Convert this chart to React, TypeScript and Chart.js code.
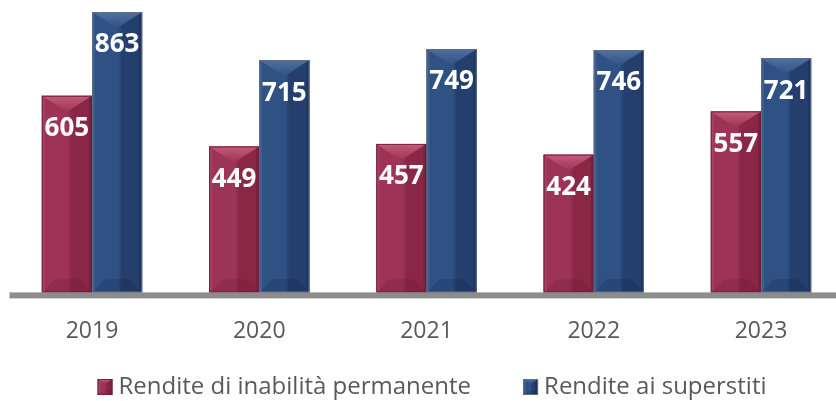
import { useEffect, useRef } from "react";
import { Chart, registerables } from "chart.js";

Chart.register(...registerables);

const categories = ["2019", "2020", "2021", "2022", "2023"];
const seriesNames = ["Rendite di inabilità permanente", "Rendite ai superstiti"];
const inabilita = [605, 449, 457, 424, 557];
const superstiti = [863, 715, 749, 746, 721];
const yMax = 900;

const palettes = [
  { left: "#9d3457", right: "#8a2747", top: "#c35b79", bottom: "rgba(60,0,20,0.12)", border: "rgba(110,30,60,0.9)" },
  { left: "#2f5184", right: "#243f6d", top: "#51709f", bottom: "rgba(0,10,40,0.14)", border: "rgba(95,110,135,0.9)" },
];

const FONT = "'Open Sans', 'Noto Sans', sans-serif";

function drawBevel(ctx: CanvasRenderingContext2D, L: number, R: number, T: number, B: number, p: any) {
  const w = R - L;
  const cx = (L + R) / 2;
  const g = ctx.createLinearGradient(L, 0, R, 0);
  g.addColorStop(0, p.left);
  g.addColorStop(0.52, p.left);
  g.addColorStop(0.6, p.right);
  g.addColorStop(1, p.right);
  ctx.fillStyle = g;
  ctx.fillRect(L, T, w, B - T);
  ctx.fillStyle = "rgba(255,255,255,0.07)";
  ctx.fillRect(L, T, 3, B - T);
  ctx.fillStyle = "rgba(0,0,0,0.14)";
  ctx.fillRect(R - 3, T, 3, B - T);
  const d = Math.min(w * 0.32, (B - T) / 2);
  const tg = ctx.createLinearGradient(0, T, 0, T + d);
  tg.addColorStop(0, p.top);
  tg.addColorStop(1, p.left);
  ctx.fillStyle = tg;
  ctx.beginPath();
  ctx.moveTo(L, T);
  ctx.lineTo(R, T);
  ctx.lineTo(cx, T + d);
  ctx.closePath();
  ctx.fill();
  const e = Math.min(w * 0.26, (B - T) / 2);
  ctx.fillStyle = p.bottom;
  ctx.beginPath();
  ctx.moveTo(L, B);
  ctx.lineTo(L + e, B - e);
  ctx.lineTo(R - e, B - e);
  ctx.lineTo(R, B);
  ctx.closePath();
  ctx.fill();
  ctx.strokeStyle = p.border;
  ctx.lineWidth = 1;
  ctx.strokeRect(L + 0.5, T + 0.5, w - 1, B - T - 1);
}

const bevelPlugin = {
  id: "bevelBars",
  afterDatasetsDraw(chart: any) {
    const ctx = chart.ctx as CanvasRenderingContext2D;
    ctx.save();
    chart.data.datasets.forEach((ds: any, i: number) => {
      const meta = chart.getDatasetMeta(i);
      meta.data.forEach((bar: any, j: number) => {
        const { x, y, base, width } = bar.getProps(["x", "y", "base", "width"], true);
        drawBevel(ctx, x - width / 2, x + width / 2, y, base, palettes[i]);
        ctx.fillStyle = "#ffffff";
        ctx.font = `bold 26px ${FONT}`;
        ctx.textAlign = "center";
        ctx.textBaseline = "middle";
        ctx.fillText(String(ds.data[j]), x, y + 33);
      });
    });
    ctx.restore();
  },
  afterDraw(chart: any) {
    const ctx = chart.ctx as CanvasRenderingContext2D;
    const y0 = chart.scales.y.getPixelForValue(0);
    ctx.save();
    ctx.fillStyle = "#8c8c8c";
    ctx.fillRect(9.5, y0, chart.width - 9.5, 6);
    ctx.font = `24px ${FONT}`;
    ctx.textBaseline = "middle";
    ctx.textAlign = "left";
    const names = chart.data.datasets.map((d: any) => d.label as string);
    const widths = names.map((n: string) => ctx.measureText(n).width);
    const box = 15, gapText = 6, gapItem = 52;
    const total = widths.reduce((a: number, b: number) => a + b, 0) + names.length * (box + gapText) + gapItem * (names.length - 1);
    let x = 432 - total / 2;
    const cy = 387;
    names.forEach((n: string, i: number) => {
      drawBevel(ctx, x, x + box, cy - 8, cy + 8, palettes[i]);
      ctx.fillStyle = "#595959";
      ctx.fillText(n, x + box + gapText, cy);
      x += box + gapText + widths[i] + gapItem;
    });
    ctx.restore();
  },
};

export default function App() {
  const ref = useRef<HTMLCanvasElement | null>(null);
  useEffect(() => {
    if (!ref.current) return;
    const chart = new Chart(ref.current, {
      type: "bar",
      data: {
        labels: categories,
        datasets: [
          { label: seriesNames[0], data: inabilita, backgroundColor: palettes[0].left, borderWidth: 0, clip: false as any },
          { label: seriesNames[1], data: superstiti, backgroundColor: palettes[1].left, borderWidth: 0, clip: false as any },
        ],
      },
      options: {
        animation: false,
        responsive: true,
        maintainAspectRatio: false,
        layout: { padding: { left: 92, right: 75, top: 0, bottom: 31 } },
        datasets: { bar: { categoryPercentage: 0.6, barPercentage: 1 } },
        plugins: { legend: { display: false }, tooltip: { enabled: false } },
        scales: {
          x: {
            offset: false,
            grid: { display: false, drawTicks: false },
            border: { display: false },
            ticks: { color: "#595959", font: { family: FONT, size: 23 }, padding: 25 },
          },
          y: { display: false, min: 0, max: yMax },
        },
      },
      plugins: [bevelPlugin],
    });
    return () => chart.destroy();
  }, []);
  return (
    <div style={{ position: "absolute", left: 0, top: 0, width: 836, height: 401 }}>
      <canvas ref={ref} />
    </div>
  );
}
